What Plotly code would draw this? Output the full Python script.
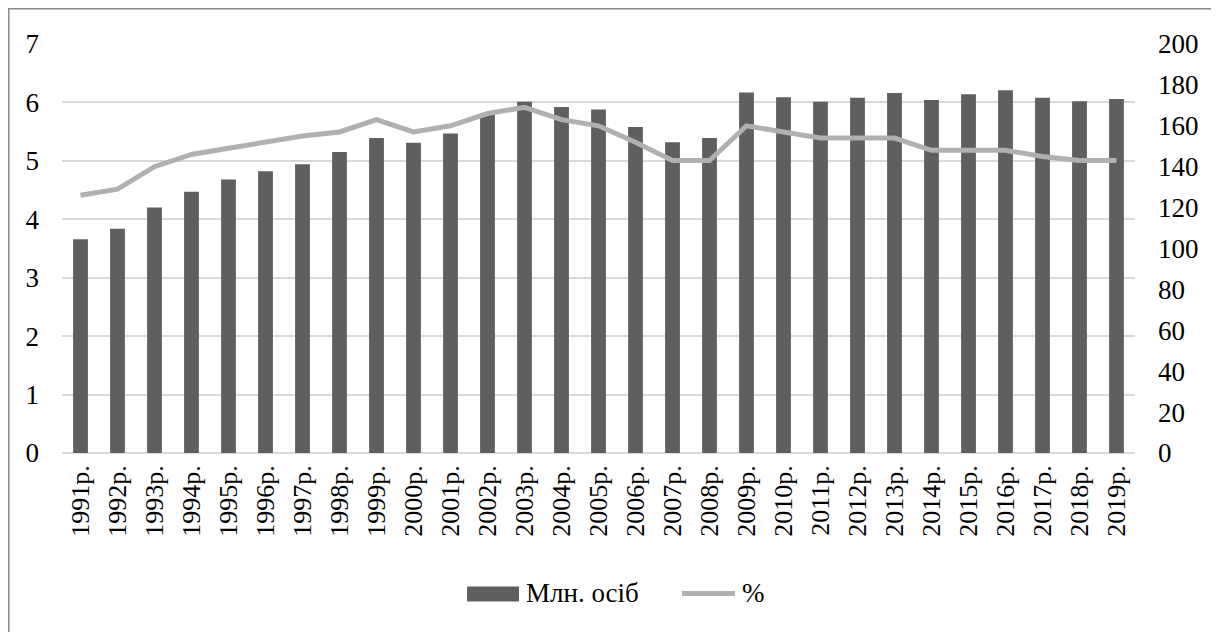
import plotly.graph_objects as go

# categories and values
years = [f"{y}р." for y in range(1991, 2020)]
mln_persons = [3.66, 3.84, 4.20, 4.47, 4.68, 4.82, 4.94, 5.15, 5.39, 5.31,
               5.47, 5.82, 6.01, 5.92, 5.88, 5.58, 5.32, 5.39, 6.17, 6.09,
               6.01, 6.08, 6.16, 6.04, 6.14, 6.21, 6.08, 6.02, 6.06]
percent = [126, 129, 140, 146, 149, 152, 155, 157, 163, 157,
           160, 166, 169, 163, 160, 152, 143, 143, 160, 157,
           154, 154, 154, 148, 148, 148, 145, 143, 143]
series_names = ["Млн. осіб", "%"]

bar_color = "#5f5f5f"
line_color = "#b0b0b0"


def serif(size=26):
    # generic serif -> Times-like face, as in the original
    return dict(family="serif", size=size, color="black")


fig = go.Figure()

fig.add_trace(go.Bar(
    x=years, y=mln_persons, name=series_names[0],
    marker=dict(color=bar_color, line=dict(width=0)),
))
fig.add_trace(go.Scatter(
    x=years, y=percent, name=series_names[1], yaxis="y2", mode="lines",
    line=dict(color=line_color, width=5),
))

# legend drawn by hand so the swatches look like the original (wide bar swatch)
legend_shapes = [
    dict(type="rect", xref="paper", yref="paper", x0=0.3775, x1=0.4259, y0=-0.3629, y1=-0.3262,
         fillcolor=bar_color, line=dict(width=0)),
    dict(type="line", xref="paper", yref="paper", x0=0.5778, x1=0.6272, y0=-0.3433, y1=-0.3433,
         line=dict(color=line_color, width=5)),
]
legend_texts = [
    dict(text=series_names[0], xref="paper", yref="paper", x=0.4306, y=-0.3433,
         xanchor="left", yanchor="middle", showarrow=False, font=serif(27)),
    dict(text=series_names[1], xref="paper", yref="paper", x=0.6319, y=-0.3433,
         xanchor="left", yanchor="middle", showarrow=False, font=serif(27)),
]

fig.update_layout(
    width=1211, height=624,
    margin=dict(l=54, r=84, t=36, b=179),
    paper_bgcolor="white", plot_bgcolor="white",
    font=serif(27),
    bargap=0.6,
    showlegend=False,
    xaxis=dict(tickangle=-90, showgrid=False, ticks="", showline=False,
               ticklabelstandoff=6, tickfont=serif(26)),
    yaxis=dict(range=[0, 7], dtick=1, showgrid=True, gridcolor="#d9d9d9", gridwidth=1.5,
               zeroline=True, zerolinecolor="#d9d9d9", zerolinewidth=1.5,
               ticks="", showline=False, ticklabelstandoff=22, tickfont=serif(27)),
    yaxis2=dict(range=[0, 200], dtick=20, overlaying="y", side="right", showgrid=False,
                zeroline=False, ticks="", showline=False, ticklabelstandoff=22,
                tickfont=serif(27)),
    shapes=[dict(type="rect", xref="paper", yref="paper",
                 x0=-0.0496, x1=1.0746, y0=-0.6, y1=1.0863,
                 line=dict(color="#8a8a8a", width=1.5), layer="below")] + legend_shapes,
    annotations=legend_texts,
)

fig.write_html("out.html")
